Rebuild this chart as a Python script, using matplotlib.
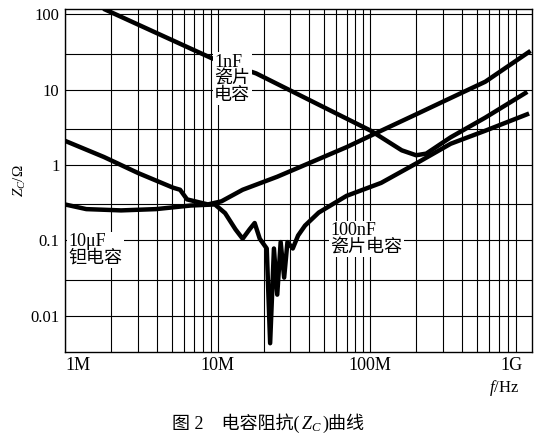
import matplotlib
matplotlib.use('Agg')
import matplotlib.pyplot as plt
from matplotlib.offsetbox import TextArea, HPacker, AnchoredOffsetbox
import numpy as np

plt.rcParams['font.family'] = ['Liberation Serif', 'Noto Sans CJK SC']
plt.rcParams['mathtext.fontset'] = 'custom'
plt.rcParams['mathtext.it'] = 'Liberation Serif:italic'
plt.rcParams['mathtext.rm'] = 'Liberation Serif'

# frequency in MHz, impedance in ohm
f_a = [1.0, 1.80, 3.03, 5.12, 5.68, 6.31, 8.64, 10.6, 14.6, 24.6, 41.5, 70, 118, 200, 337, 568, 1093]
z_a = [2.1, 1.28, 0.78, 0.50, 0.47, 0.35, 0.30, 0.33, 0.47, 0.70, 1.10, 1.73, 2.86, 4.72, 7.78, 12.8, 31.6]

f_b = [1.0, 1.38, 2.33, 3.94, 6.65, 9.6, 11.2, 13.1, 14.6, 16.2, 17.5, 18.9, 21.0, 22.1, 23.4,
       24.6, 25.9, 27.3, 28.7, 31.1, 33.7, 37.4, 46.0, 70, 118, 200, 337, 568, 1066]
z_b = [0.30, 0.26, 0.25, 0.26, 0.29, 0.30, 0.23, 0.14, 0.105, 0.14, 0.17, 0.105, 0.078, 0.0043, 0.078,
       0.019, 0.095, 0.032, 0.095, 0.078, 0.116, 0.157, 0.234, 0.39, 0.58, 1.05, 1.92, 2.86, 4.72]

f_c = [1.84, 9.1, 17.9, 100.9, 161, 200, 233, 337, 568, 1040]
z_c = [116, 26.4, 16.5, 2.86, 1.57, 1.35, 1.42, 2.34, 4.27, 9.06]

fig = plt.figure(figsize=(5.37, 4.46), dpi=100)
ax = fig.add_axes([0.121, 0.211, 0.870, 0.768])
ax.set_xscale('log')
ax.set_yscale('log')
ax.set_xlim(1.0, 1152)
ax.set_ylim(0.0033, 117)

# grid: every 1..9 vertically, 1 and 3 horizontally
for dec in [1, 10, 100]:
    for k in range(1, 10):
        ax.axvline(dec * k, color='black', lw=0.8, zorder=1)
for dec in [0.01, 0.1, 1, 10, 100]:
    ax.axhline(dec, color='black', lw=0.8, zorder=1)
    if dec * 3 < 117:
        ax.axhline(dec * 3, color='black', lw=0.8, zorder=1)

for f, z in [(f_a, z_a), (f_b, z_b), (f_c, z_c)]:
    ax.plot(f, z, color='black', lw=3.2, zorder=3, solid_joinstyle='round')

bbox = dict(facecolor='white', edgecolor='none', pad=1)
ax.text(9.5, 30, '1nF\n瓷片\n电容', fontsize=13, va='top', ha='left', linespacing=0.95,
        bbox=bbox, zorder=4)
ax.text(1.06, 0.125, '10μF\n钽电容', fontsize=13, va='top', ha='left', linespacing=0.95,
        bbox=bbox, zorder=4)
ax.text(55, 0.175, '100nF\n瓷片电容', fontsize=13, va='top', ha='left', linespacing=0.95,
        bbox=bbox, zorder=4)

ax.set_yticks([0.01, 0.1, 1, 10, 100])
ax.set_yticklabels(['0.01', '0.1', '1', '10', '100'], fontsize=12)
ax.set_xticks([1, 10, 100, 1000])
labels = ax.set_xticklabels(['1M', '10M', '100M', '1G'], fontsize=13)
labels[0].set_ha('left')
labels[-1].set_ha('right')
ax.minorticks_off()
ax.tick_params(length=0, pad=4)
for s in ax.spines.values():
    s.set_linewidth(1.0)

ax.set_ylabel('$Z_C$/Ω', fontsize=11, labelpad=2)
fig.text(0.91, 0.122, '$f$/Hz', fontsize=12)

# caption: CJK parts as plain text, Z_C as mathtext
parts = [TextArea('图 2    电容阻抗(', textprops=dict(fontsize=13)),
         TextArea('$Z_C$', textprops=dict(fontsize=13)),
         TextArea(')曲线', textprops=dict(fontsize=13))]
cap = AnchoredOffsetbox(loc='lower center', child=HPacker(children=parts, pad=0, sep=1, align='baseline'),
                        frameon=False, bbox_to_anchor=(0.5, 0.015), bbox_transform=fig.transFigure,
                        borderpad=0)
fig.add_artist(cap)

fig.savefig('out.png', dpi=100)
